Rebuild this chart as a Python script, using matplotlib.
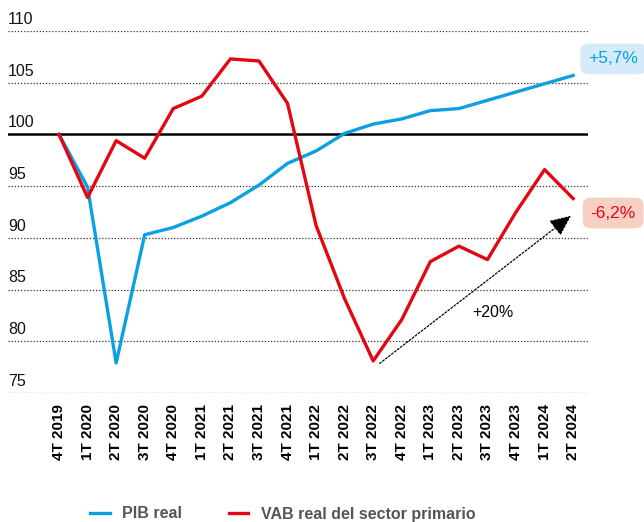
import matplotlib.pyplot as plt
from matplotlib.lines import Line2D

plt.rcParams['font.family'] = ['Liberation Sans', 'DejaVu Sans']

# -----------------------------
# Data (index, 4T 2019 = 100)
# -----------------------------
quarters = ['4T 2019', '1T 2020', '2T 2020', '3T 2020', '4T 2020', '1T 2021',
            '2T 2021', '3T 2021', '4T 2021', '1T 2022', '2T 2022', '3T 2022',
            '4T 2022', '1T 2023', '2T 2023', '3T 2023', '4T 2023', '1T 2024',
            '2T 2024']
pib_real = [100.0, 94.9, 77.9, 90.3, 91.0, 92.1, 93.4, 95.1, 97.2, 98.4,
            100.1, 101.0, 101.5, 102.3, 102.5, 103.3, 104.1, 104.9, 105.7]
vab_primario = [100.0, 93.9, 99.4, 97.7, 102.5, 103.7, 107.3, 107.1, 103.0,
                91.2, 84.1, 78.1, 82.1, 87.7, 89.2, 87.9, 92.5, 96.6, 93.8]
y_ticks = [75, 80, 85, 90, 95, 100, 105, 110]
end_labels = ['+5,7%', '-6,2%']
arrow_label = '+20%'

BLUE = '#0aa0e2'
RED = '#e30613'

fig = plt.figure(figsize=(6.44, 5.22), dpi=100)
ax = fig.add_axes([8 / 644, 1 - 393 / 522, 580 / 644, 362 / 522])

x = list(range(len(quarters)))

# grid lines (dotted) and the 100 base line
for t in y_ticks:
    if t == 100:
        ax.axhline(t, color='black', lw=1.8, zorder=2)
    else:
        ax.axhline(t, color='#333333', lw=0.9, linestyle=(0, (1, 1.5)), zorder=1)
    ax.text(0.0, t + 0.4, str(t), transform=ax.get_yaxis_transform(),
            ha='left', va='bottom', fontsize=11.5, color='#111111')

ax.plot(x, pib_real, color=BLUE, lw=2.4, zorder=3, clip_on=False)
ax.plot(x, vab_primario, color=RED, lw=2.4, zorder=4, clip_on=False)

# arrow showing recovery of the primary sector
ax.annotate('', xy=(18, 92.3), xytext=(11.15, 77.7),
            arrowprops=dict(arrowstyle='-|>,head_length=1.0,head_width=0.45',
                            mutation_scale=13, color='black', lw=0.9,
                            linestyle=(0, (1.5, 1.5))))
ax.text(15.2, 82.75, arrow_label, ha='center', va='center', fontsize=11.5)

# end labels
ax.text(19.4, pib_real[-1] + 1.6, end_labels[0], color=BLUE, fontsize=12.5,
        ha='center', va='center', clip_on=False,
        bbox=dict(boxstyle='round,pad=0.45,rounding_size=0.45', fc='#d5ebf9', ec='none'))
ax.text(19.4, vab_primario[-1] - 1.4, end_labels[1], color=RED, fontsize=12.5,
        ha='center', va='center', clip_on=False,
        bbox=dict(boxstyle='round,pad=0.45,rounding_size=0.45', fc='#f8d0c3', ec='none'))

ax.set_xlim(-1.786, 18.52)
ax.set_ylim(75, 110)
ax.set_xticks(x)
ax.set_xticklabels(quarters, rotation=90, fontweight='bold', fontsize=11)
ax.tick_params(axis='x', length=0, pad=8)
ax.set_yticks([])
for s in ax.spines.values():
    s.set_visible(False)

handles = [Line2D([], [], color=BLUE, lw=2.4), Line2D([], [], color=RED, lw=2.4)]
fig.legend(handles, ['PIB real', 'VAB real del sector primario'],
           loc='center left', bbox_to_anchor=(76 / 644, 1 - 514 / 522), ncol=2,
           frameon=False, handlelength=1.2, handletextpad=0.8, columnspacing=2.9,
           prop={'weight': 'bold', 'size': 11.5}, labelcolor='#555555')

fig.savefig('out.png', dpi=100)
